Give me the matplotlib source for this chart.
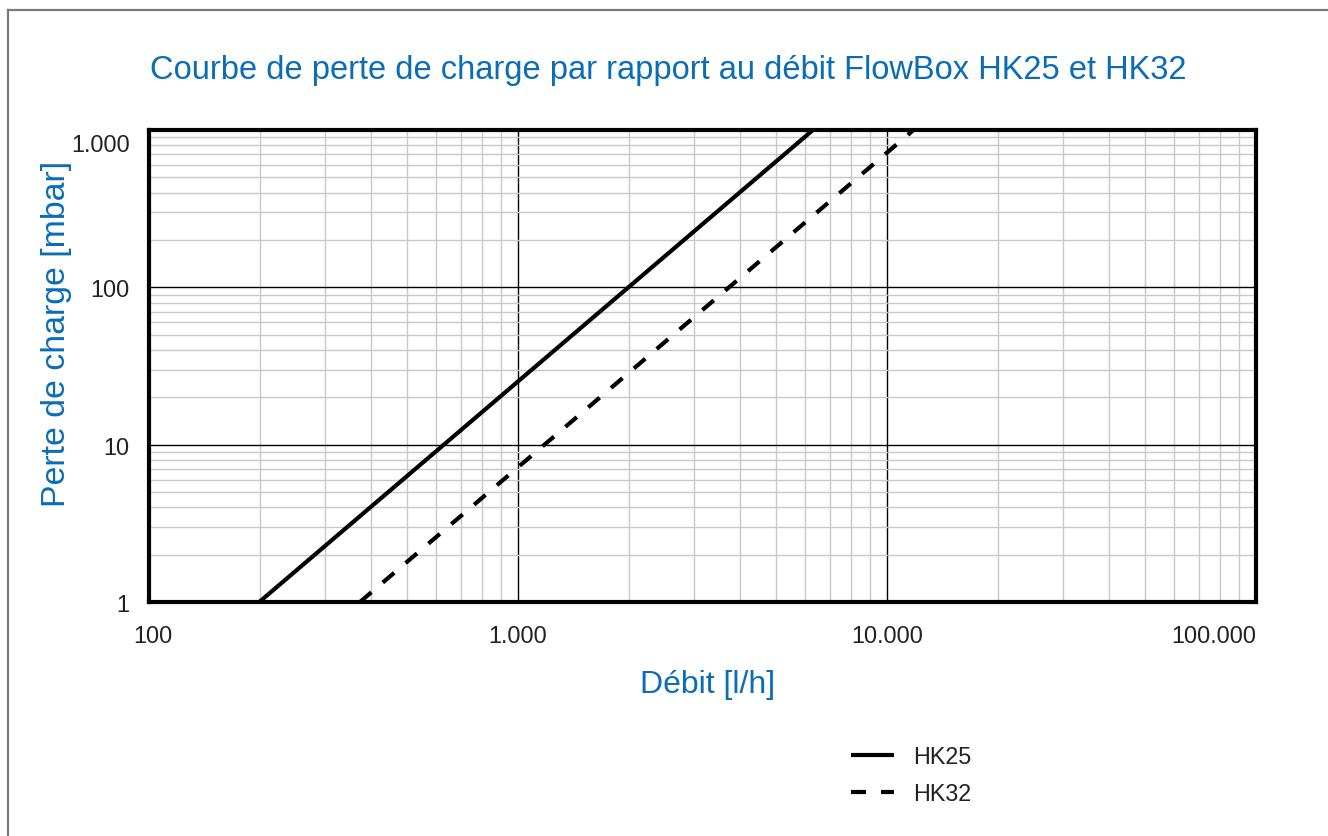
"""
Pressure-drop vs flow curve, FlowBox HK25 / HK32 (log-log).
Output: out.png
"""

import matplotlib
matplotlib.use("Agg")
import matplotlib.pyplot as plt
from matplotlib.lines import Line2D
from matplotlib.ticker import FixedLocator, FuncFormatter, LogLocator, NullFormatter
import matplotlib.transforms as mtransforms

plt.rcParams["font.family"] = ["Liberation Sans", "DejaVu Sans"]
plt.rcParams["lines.scale_dashes"] = False

BLUE = "#0a6db5"
GRID_MINOR = "#c8c8c8"
TEXT = "#222222"

# flow [l/h] and pressure drop [mbar]
q_hk25 = [199, 6300]
dp_hk25 = [1, 1000]
q_hk32 = [373, 11800]
dp_hk32 = [1, 1000]

x_ticks = [100, 1000, 10000, 100000]
y_ticks = [1, 10, 100, 1000]

TITLE = "Courbe de perte de charge par rapport au débit FlowBox HK25 et HK32"
XLABEL = "Débit [l/h]"
YLABEL = "Perte de charge [mbar]"


def dot_thousands(v, _pos=None):
    return f"{v:,.0f}".replace(",", ".")


def shift(label, dx_px, dy_px, fig):
    label.set_transform(label.get_transform() +
                        mtransforms.ScaledTranslation(dx_px / 100, dy_px / 100,
                                                      fig.dpi_scale_trans))


def main():
    W, H = 1328, 837
    fig = plt.figure(figsize=(W / 100, H / 100), dpi=100)
    fig.patch.set_facecolor("white")

    left, right, top, bottom = 149, 1256, 131, 603
    ax = fig.add_axes([left / W, 1 - bottom / H, (right - left) / W, (bottom - top) / H])

    ax.set_xscale("log")
    ax.set_yscale("log")
    ax.set_xlim(100, 100000)
    ax.set_ylim(1, 1000)

    ax.xaxis.set_major_locator(FixedLocator(x_ticks))
    ax.yaxis.set_major_locator(FixedLocator(y_ticks))
    ax.xaxis.set_minor_locator(LogLocator(base=10, subs=range(2, 10), numticks=20))
    ax.yaxis.set_minor_locator(LogLocator(base=10, subs=range(2, 10), numticks=20))
    ax.xaxis.set_major_formatter(FuncFormatter(dot_thousands))
    ax.yaxis.set_major_formatter(FuncFormatter(dot_thousands))
    ax.xaxis.set_minor_formatter(NullFormatter())
    ax.yaxis.set_minor_formatter(NullFormatter())

    ax.grid(True, which="minor", color=GRID_MINOR, linewidth=1.0)
    ax.grid(True, which="major", color="black", linewidth=1.0)
    ax.set_axisbelow(True)

    ax.tick_params(which="both", length=0)
    ax.tick_params(axis="x", pad=16, labelsize=16.8, labelcolor=TEXT)
    ax.tick_params(axis="y", pad=14, labelsize=16.8, labelcolor=TEXT)

    for sp in ax.spines.values():
        sp.set_linewidth(3)
        sp.set_color("black")

    ax.plot(q_hk25, dp_hk25, color="black", lw=3, label="HK25",
            solid_capstyle="butt")
    # dash length in points: ~15 px on, ~15 px off
    ax.plot(q_hk32, dp_hk32, color="black", lw=3, label="HK32",
            dashes=(10.8, 10.8), dash_capstyle="butt")

    # tick label nudges seen in the reference
    fig.canvas.draw()
    for lab in ax.get_yticklabels():
        if lab.get_text() == "1.000":
            shift(lab, 0, -12, fig)
    for lab in ax.get_xticklabels():
        if lab.get_text() == "100.000":
            lab.set_ha("right")
        elif lab.get_text() == "100":
            shift(lab, 4, 0, fig)

    fig.text(668 / W, 1 - 70 / H, TITLE, color=BLUE, fontsize=23.5,
             ha="center", va="center")
    fig.text(708 / W, 1 - 685 / H, XLABEL, color=BLUE, fontsize=23,
             ha="center", va="center")
    fig.text(57 / W, 1 - 334 / H, YLABEL, color=BLUE, fontsize=24.4,
             ha="center", va="center", rotation=90)

    fig.legend(loc="upper left", bbox_to_anchor=(830 / W, 1 - 725 / H),
               frameon=False, fontsize=16.8, handlelength=1.85,
               handletextpad=0.8, labelspacing=0.6, labelcolor=TEXT)

    # partial frame round the picture (top and left edges only)
    fig.add_artist(Line2D([8 / W, 1], [1 - 10.5 / H, 1 - 10.5 / H],
                          transform=fig.transFigure, color="#7a7a7a", lw=1.6))
    fig.add_artist(Line2D([8 / W, 8 / W], [1 - 10.5 / H, 0],
                          transform=fig.transFigure, color="#7a7a7a", lw=1.6))

    fig.savefig("out.png", dpi=100, facecolor="white")
    plt.close(fig)


if __name__ == "__main__":
    main()
